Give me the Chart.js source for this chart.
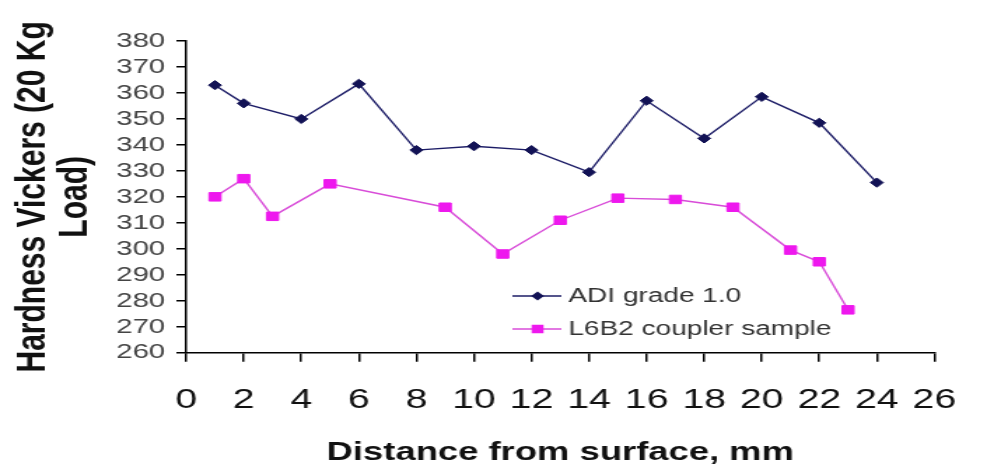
<!DOCTYPE html>
<html>
<head>
<meta charset="utf-8">
<script src="https://cdn.jsdelivr.net/npm/chart.js@4.4.1/dist/chart.umd.min.js"></script>
<style>
  html, body { margin: 0; padding: 0; background: #fff; overflow: hidden; }
  /* the original picture is stretched sideways, so the chart is drawn narrow and widened */
  #wrap { width: 705px; height: 471px; transform: scaleX(1.4); transform-origin: 0 0; }
</style>
</head>
<body>
<div id="wrap"><canvas id="grafico" width="705" height="471"></canvas></div>
<script>
// ==========================================================
// Hardness Vickers vs distance from surface
// ==========================================================

// Distance from surface (mm)
const adiX = [1, 2, 4, 6, 8, 10, 12, 14, 16, 18, 20, 22, 24];
const l6b2X = [1, 2, 3, 5, 9, 11, 13, 15, 17, 19, 21, 22, 23];

// Hardness values (HV 20 Kg)
const adiY = [363, 356, 350, 363.5, 338, 339.5, 338, 329.5, 357, 342.5, 358.5, 348.5, 325.5];
const l6b2Y = [320, 327, 312.5, 325, 316, 298, 311, 319.5, 319, 316, 299.5, 295, 276.5];

const seriesNames = ["ADI grade 1.0", "L6B2 coupler sample"];
const yTitle = ["Hardness Vickers (20 Kg", "Load)"];
const xTitle = "Distance from surface, mm";

const FONT = "'Liberation Sans', Arial, sans-serif";

const toPoints = (xs, ys) => xs.map((x, i) => ({ x, y: ys[i] }));

// legend drawn inside the plot, lower middle
const leyendaPlugin = {
  id: "leyenda",
  afterDraw(chart) {
    const ctx = chart.ctx;
    chart.data.datasets.forEach((ds, i) => {
      const y = 296 + i * 33;
      const cx = 384;
      ctx.save();
      ctx.strokeStyle = ds.borderColor;
      ctx.lineWidth = ds.borderWidth;
      ctx.beginPath();
      ctx.moveTo(366, y);
      ctx.lineTo(401, y);
      ctx.stroke();
      ctx.fillStyle = ds.pointBackgroundColor;
      if (ds.pointStyle === "rectRot") {
        const r = ds.pointRadius;
        ctx.beginPath();
        ctx.moveTo(cx, y - r);
        ctx.lineTo(cx + r, y);
        ctx.lineTo(cx, y + r);
        ctx.lineTo(cx - r, y);
        ctx.closePath();
        ctx.fill();
      } else {
        const s = ds.pointRadius * Math.SQRT1_2;
        ctx.fillRect(cx - s, y - s, 2 * s, 2 * s);
      }
      ctx.font = "20px " + FONT;
      ctx.fillStyle = "#333";
      ctx.textBaseline = "middle";
      ctx.textAlign = "left";
      ctx.fillText(ds.label, 406, y);
      ctx.restore();
    });
  }
};

const ctx = document.getElementById("grafico").getContext("2d");
new Chart(ctx, {
  type: "line",
  data: {
    datasets: [
      {
        label: seriesNames[0],
        data: toPoints(adiX, adiY),
        borderColor: "#1c1c66",
        borderWidth: 1.4,
        pointStyle: "rectRot",
        pointRadius: 4.6,
        pointBackgroundColor: "#121255",
        pointBorderColor: "#121255",
        pointBorderWidth: 1,
        tension: 0,
        fill: false
      },
      {
        label: seriesNames[1],
        data: toPoints(l6b2X, l6b2Y),
        borderColor: "#d84cd8",
        borderWidth: 1.4,
        pointStyle: "rect",
        pointRadius: 6,
        pointBackgroundColor: "#ee18ee",
        pointBorderColor: "#ee18ee",
        pointBorderWidth: 1,
        tension: 0,
        fill: false
      }
    ]
  },
  options: {
    responsive: false,
    animation: false,
    devicePixelRatio: 1,
    layout: { padding: { top: 41, right: 16, bottom: 0, left: 0 } },
    plugins: {
      legend: { display: false },
      tooltip: { enabled: false }
    },
    scales: {
      x: {
        type: "linear",
        min: 0,
        max: 26,
        afterFit: s => { s.height = 118.3; },
        grid: { display: true, drawOnChartArea: false, drawTicks: true, tickLength: 9, color: "#000", lineWidth: 1.5 },
        border: { display: true, color: "#000", width: 1.5 },
        ticks: { stepSize: 2, autoSkip: false, maxRotation: 0, padding: 22, color: "#111", font: { family: FONT, size: 28 } },
        title: {
          display: true,
          text: xTitle,
          color: "#111",
          font: { family: FONT, size: 26, weight: "bold" },
          padding: { top: 0, bottom: 3 }
        }
      },
      y: {
        min: 260,
        max: 380,
        afterFit: s => { s.width = 133; },
        grid: { display: true, drawOnChartArea: false, drawTicks: true, tickLength: 7, color: "#000", lineWidth: 1.5 },
        border: { display: true, color: "#000", width: 1.5 },
        ticks: { stepSize: 10, autoSkip: false, padding: 8, color: "#444", font: { family: FONT, size: 21 } },
        title: {
          display: true,
          text: yTitle,
          color: "#111",
          font: { family: FONT, size: 30, weight: "bold", lineHeight: 1.02 },
          padding: { top: 8, bottom: 0 }
        }
      }
    }
  },
  plugins: [leyendaPlugin]
});
</script>
</body>
</html>
